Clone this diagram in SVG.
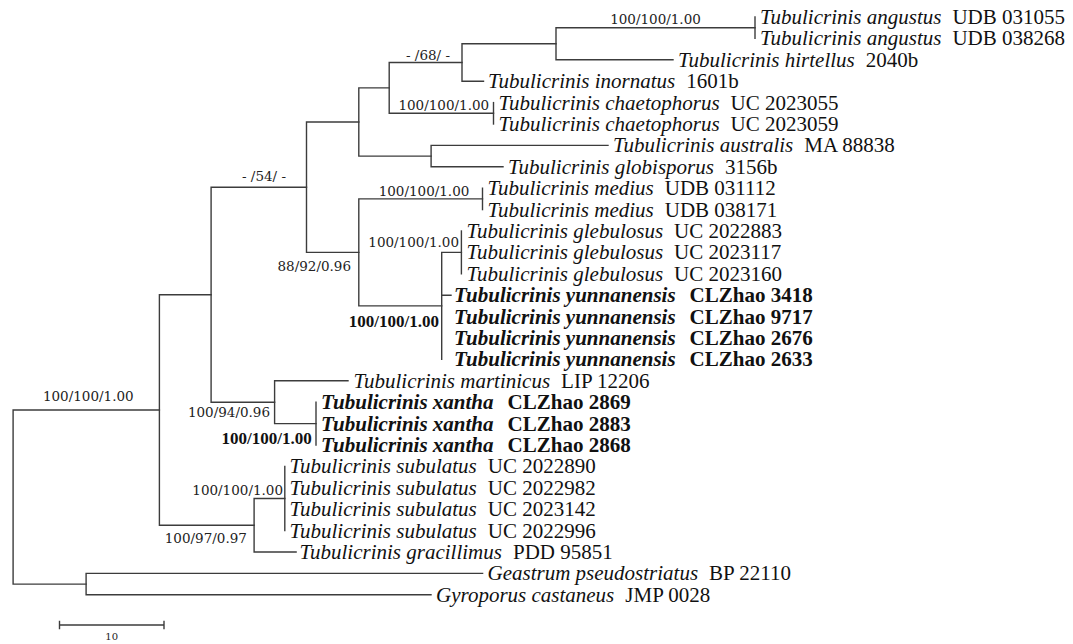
<svg xmlns="http://www.w3.org/2000/svg" width="1073" height="644" viewBox="0 0 1073 644">
<style>
.br{stroke:#3c3c3c;stroke-width:1.4;fill:none;stroke-linecap:square}
.tx{font-family:"Liberation Serif","Times New Roman",serif;font-size:21px;fill:#111}
.sp{font-style:italic}
.b{font-weight:bold}
.sup{font-family:"DejaVu Serif","Liberation Serif",serif;font-size:13.5px;fill:#222}
.supb{font-family:"Liberation Serif","Times New Roman",serif;font-size:17px;font-weight:bold;fill:#111}
.scale{font-family:"DejaVu Serif",serif;font-size:10px;fill:#222}
</style>
<rect width="1073" height="644" fill="#fff"/>
<g id="connectors" class="br">
<path d="M13.1,410V584.1M13.1,410H159.4M13.1,584.1H86.1"/>
<path d="M86.1,573.4V594.8M86.1,573.4H482.6M86.1,594.8H431"/>
<path d="M159.4,294.7V525.25M159.4,294.7H211.1M159.4,525.25H254.1"/>
<path d="M254.1,498.5V552M254.1,498.5H284.8M254.1,552H296.1"/>
<path d="M284.8,466.4V530.6"/>
<path d="M211.1,187.2V402.2M211.1,187.2H306.5M211.1,402.2H274.6"/>
<path d="M274.6,380.8V423.6M274.6,380.8H348M274.6,423.6H316"/>
<path d="M316,402.2V445"/>
<path d="M306.5,122V252.4M306.5,122H358.8M306.5,252.4H358.8"/>
<path d="M358.8,87.9V156.1M358.8,87.9H389.2M358.8,156.1H431.1"/>
<path d="M389.2,62.5V113.3M389.2,62.5H462M389.2,113.3H493.5"/>
<path d="M462,43.75V81.2M462,43.75H556M462,81.2H483.5"/>
<path d="M556,27.7V59.8M556,27.7H755M556,59.8H673"/>
<path d="M755,17V38.4"/>
<path d="M493.5,102.6V124"/>
<path d="M431.1,145.4V166.8M431.1,145.4H608M431.1,166.8H503"/>
<path d="M358.8,198.9V305.9M358.8,198.9H482.5M358.8,305.9H441.7"/>
<path d="M482.5,188.2V209.6"/>
<path d="M441.7,252.4V359.4M441.7,252.4H461.4M441.7,295.2H451"/>
<path d="M461.4,231V273.8"/>
</g>
<g id="support-labels">
<text class="sup" x="655.5" y="23.5" text-anchor="middle">100/100/1.00</text>
<text class="sup" x="428" y="59.5" text-anchor="middle">- /68/ -</text>
<text class="sup" x="443.8" y="110" text-anchor="middle">100/100/1.00</text>
<text class="sup" x="264" y="181" text-anchor="middle">- /54/ -</text>
<text class="sup" x="424" y="195.5" text-anchor="middle">100/100/1.00</text>
<text class="sup" x="351" y="271" text-anchor="end">88/92/0.96</text>
<text class="sup" x="459" y="246.5" text-anchor="end">100/100/1.00</text>
<text class="supb" x="439" y="327" text-anchor="end">100/100/1.00</text>
<text class="sup" x="88.3" y="401" text-anchor="middle">100/100/1.00</text>
<text class="sup" x="270" y="417" text-anchor="end">100/94/0.96</text>
<text class="supb" x="311.7" y="443.5" text-anchor="end">100/100/1.00</text>
<text class="sup" x="283" y="495" text-anchor="end">100/100/1.00</text>
<text class="sup" x="246.9" y="543" text-anchor="end">100/97/0.97</text>
</g>
<g id="leaf-01"><text class="tx" x="760" y="24"><tspan class="sp">Tubulicrinis angustus</tspan><tspan dx="11">UDB 031055</tspan></text></g>
<g id="leaf-02"><text class="tx" x="760" y="45.4"><tspan class="sp">Tubulicrinis angustus</tspan><tspan dx="11">UDB 038268</tspan></text></g>
<g id="leaf-03"><text class="tx" x="678" y="66.8"><tspan class="sp">Tubulicrinis hirtellus</tspan><tspan dx="11">2040b</tspan></text></g>
<g id="leaf-04"><text class="tx" x="488" y="88.2"><tspan class="sp">Tubulicrinis inornatus</tspan><tspan dx="11">1601b</tspan></text></g>
<g id="leaf-05"><text class="tx" x="498.5" y="109.6"><tspan class="sp">Tubulicrinis chaetophorus</tspan><tspan dx="11">UC 2023055</tspan></text></g>
<g id="leaf-06"><text class="tx" x="498.5" y="131"><tspan class="sp">Tubulicrinis chaetophorus</tspan><tspan dx="11">UC 2023059</tspan></text></g>
<g id="leaf-07"><text class="tx" x="613" y="152.4"><tspan class="sp">Tubulicrinis australis</tspan><tspan dx="11">MA 88838</tspan></text></g>
<g id="leaf-08"><text class="tx" x="508" y="173.8"><tspan class="sp">Tubulicrinis globisporus</tspan><tspan dx="11">3156b</tspan></text></g>
<g id="leaf-09"><text class="tx" x="487.5" y="195.2"><tspan class="sp">Tubulicrinis medius</tspan><tspan dx="11">UDB 031112</tspan></text></g>
<g id="leaf-10"><text class="tx" x="487.5" y="216.6"><tspan class="sp">Tubulicrinis medius</tspan><tspan dx="11">UDB 038171</tspan></text></g>
<g id="leaf-11"><text class="tx" x="466.5" y="238"><tspan class="sp">Tubulicrinis glebulosus</tspan><tspan dx="11">UC 2022883</tspan></text></g>
<g id="leaf-12"><text class="tx" x="466.5" y="259.4"><tspan class="sp">Tubulicrinis glebulosus</tspan><tspan dx="11">UC 2023117</tspan></text></g>
<g id="leaf-13"><text class="tx" x="466.5" y="280.8"><tspan class="sp">Tubulicrinis glebulosus</tspan><tspan dx="11">UC 2023160</tspan></text></g>
<g id="leaf-14"><text class="tx b" x="454" y="302.2"><tspan class="sp">Tubulicrinis yunnanensis</tspan><tspan dx="14">CLZhao 3418</tspan></text></g>
<g id="leaf-15"><text class="tx b" x="454" y="323.6"><tspan class="sp">Tubulicrinis yunnanensis</tspan><tspan dx="14">CLZhao 9717</tspan></text></g>
<g id="leaf-16"><text class="tx b" x="454" y="345"><tspan class="sp">Tubulicrinis yunnanensis</tspan><tspan dx="14">CLZhao 2676</tspan></text></g>
<g id="leaf-17"><text class="tx b" x="454" y="366.4"><tspan class="sp">Tubulicrinis yunnanensis</tspan><tspan dx="14">CLZhao 2633</tspan></text></g>
<g id="leaf-18"><text class="tx" x="353.5" y="387.8"><tspan class="sp">Tubulicrinis martinicus</tspan><tspan dx="11">LIP 12206</tspan></text></g>
<g id="leaf-19"><text class="tx b" x="321" y="409.2"><tspan class="sp">Tubulicrinis xantha</tspan><tspan dx="14">CLZhao 2869</tspan></text></g>
<g id="leaf-20"><text class="tx b" x="321" y="430.6"><tspan class="sp">Tubulicrinis xantha</tspan><tspan dx="14">CLZhao 2883</tspan></text></g>
<g id="leaf-21"><text class="tx b" x="321" y="452"><tspan class="sp">Tubulicrinis xantha</tspan><tspan dx="14">CLZhao 2868</tspan></text></g>
<g id="leaf-22"><text class="tx" x="289.5" y="473.4"><tspan class="sp">Tubulicrinis subulatus</tspan><tspan dx="11">UC 2022890</tspan></text></g>
<g id="leaf-23"><text class="tx" x="289.5" y="494.8"><tspan class="sp">Tubulicrinis subulatus</tspan><tspan dx="11">UC 2022982</tspan></text></g>
<g id="leaf-24"><text class="tx" x="289.5" y="516.2"><tspan class="sp">Tubulicrinis subulatus</tspan><tspan dx="11">UC 2023142</tspan></text></g>
<g id="leaf-25"><text class="tx" x="289.5" y="537.6"><tspan class="sp">Tubulicrinis subulatus</tspan><tspan dx="11">UC 2022996</tspan></text></g>
<g id="leaf-26"><text class="tx" x="299.5" y="559"><tspan class="sp">Tubulicrinis gracillimus</tspan><tspan dx="11">PDD 95851</tspan></text></g>
<g id="leaf-27"><text class="tx" x="487.5" y="580.4"><tspan class="sp">Geastrum pseudostriatus</tspan><tspan dx="11">BP 22110</tspan></text></g>
<g id="leaf-28"><text class="tx" x="436" y="601.8"><tspan class="sp">Gyroporus castaneus</tspan><tspan dx="11">JMP 0028</tspan></text></g>
<g id="scale-bar">
<path class="br" d="M59.5,625H164M59.5,621.5V628.5M164,621.5V628.5"/>
<text class="scale" x="111.7" y="640" text-anchor="middle">10</text>
</g>
</svg>
